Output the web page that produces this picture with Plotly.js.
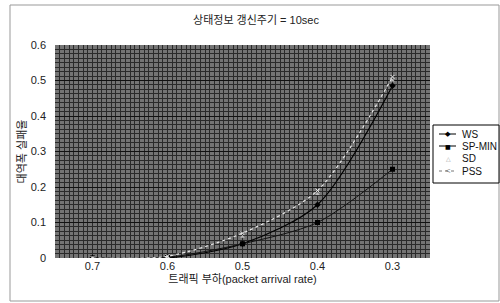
<!DOCTYPE html>
<html>
<head>
<meta charset="utf-8">
<script src="https://cdn.plot.ly/plotly-3.0.1.min.js"></script>
<style>html,body{margin:0;padding:0;background:#fff;}#chart{width:500px;height:303px;}</style>
</head>
<body>
<div id="chart"></div>
<script>
// Data
var loads = [0.7, 0.6, 0.5, 0.4, 0.3];
var tickLabels = ['0.7', '0.6', '0.5', '0.4', '0.3'];
var seriesNames = ['WS', 'SP-MIN', 'SD', 'PSS'];
var ws = [0, 0, 0.04, 0.15, 0.485];
var spmin = [0, 0.002, 0.04, 0.10, 0.25];
var sd = [0, 0.003, 0.06, 0.18, 0.50];
var pss = [0, 0.005, 0.07, 0.19, 0.51];

var FONT = 'Liberation Sans, Arial, Noto Sans CJK KR, sans-serif';

var traces = [
  {x: loads, y: ws, name: seriesNames[0], type: 'scatter', mode: 'lines+markers',
   line: {color: '#000', width: 1.2, shape: 'spline', smoothing: 0.8},
   marker: {symbol: 'diamond', size: 5, color: '#000'}},
  {x: loads, y: spmin, name: seriesNames[1], type: 'scatter', mode: 'lines+markers',
   line: {color: '#111', width: 1, shape: 'spline', smoothing: 0.8},
   marker: {symbol: 'square', size: 5, color: '#000'}},
  {x: loads, y: sd, name: seriesNames[2], type: 'scatter', mode: 'markers',
   marker: {symbol: 'triangle-up', size: 4, color: '#bbb'}},
  {x: loads, y: pss, name: seriesNames[3], type: 'scatter', mode: 'lines+markers',
   line: {color: '#e8e8e8', width: 1.2, dash: 'dot', shape: 'spline', smoothing: 0.8},
   marker: {symbol: 'x-thin-open', size: 4, color: '#e8e8e8', line: {color: '#ddd', width: 1}}}
];

// Manual legend (pixel layout converted to paper coords)
var L = 55, R = 430, T = 45, B = 258;
function px(x) { return (x - L) / (R - L); }
function py(y) { return (B - y) / (B - T); }
var rowY = [134, 146, 158, 171];
var shapes = [
  {type: 'rect', xref: 'paper', yref: 'paper', x0: px(10), x1: px(499), y0: py(301), y1: py(5),
   line: {color: '#999', width: 1}, fillcolor: 'rgba(0,0,0,0)', layer: 'below'},
  {type: 'rect', xref: 'paper', yref: 'paper', x0: px(433), x1: px(499), y0: py(183), y1: py(125),
   line: {color: '#000', width: 1}, fillcolor: '#fff', layer: 'above'}
];
var lineStyles = [
  {color: '#000', width: 1, dash: 'solid'},
  {color: '#000', width: 1, dash: 'solid'},
  null,
  {color: '#777', width: 1, dash: 'dot'}
];
var glyphs = [
  {t: '◆', size: 7, color: '#000'},
  {t: '■', size: 6, color: '#000'},
  {t: '△', size: 6, color: '#999'},
  {t: '<', size: 7, color: '#777'}
];
var annotations = [];
seriesNames.forEach(function (n, i) {
  if (lineStyles[i]) {
    shapes.push({type: 'line', xref: 'paper', yref: 'paper', x0: px(439), x1: px(456),
                 y0: py(rowY[i]), y1: py(rowY[i]), line: lineStyles[i], layer: 'above'});
  }
  annotations.push({xref: 'paper', yref: 'paper', x: px(448), y: py(rowY[i]), text: glyphs[i].t,
    showarrow: false, xanchor: 'center', yanchor: 'middle',
    font: {family: 'DejaVu Sans', size: glyphs[i].size, color: glyphs[i].color}});
  annotations.push({xref: 'paper', yref: 'paper', x: px(460), y: py(rowY[i]), text: n,
    showarrow: false, xanchor: 'left', yanchor: 'middle',
    font: {family: FONT, size: 10, color: '#111'}});
});

var layout = {
  width: 500, height: 303,
  margin: {l: L, r: 500 - R, t: T, b: 303 - B, autoexpand: false},
  paper_bgcolor: '#fff',
  plot_bgcolor: '#747474',
  font: {family: FONT, size: 11, color: '#222'},
  title: {text: '상태정보 갱신주기 = 10sec', x: 0.512, xref: 'container', xanchor: 'center',
          y: 0.932, yref: 'container', yanchor: 'middle',
          font: {family: FONT, size: 11, color: '#222'}},
  xaxis: {
    range: [0.75, 0.25],
    tickmode: 'array', tickvals: loads, ticktext: tickLabels,
    showgrid: false, zeroline: false, showline: false, ticks: '',
    tickfont: {size: 11},
    minor: {dtick: 0.00625, tick0: 0.25, showgrid: true, gridcolor: '#2a2a2a', gridwidth: 1, ticks: ''},
    title: {text: '트래픽 부하(packet arrival rate)', standoff: 4, font: {size: 11}}
  },
  yaxis: {
    range: [0, 0.6], dtick: 0.1,
    showgrid: true, gridcolor: '#111', gridwidth: 1,
    zeroline: false, showline: false, ticks: '',
    ticklabelstandoff: 8,
    tickfont: {size: 11},
    minor: {dtick: 0.0125, showgrid: true, gridcolor: '#2a2a2a', gridwidth: 1, ticks: ''},
    title: {text: '대역폭 실패율', standoff: 1, font: {size: 11}}
  },
  showlegend: false,
  shapes: shapes,
  annotations: annotations
};

Plotly.newPlot('chart', traces, layout, {displayModeBar: false, staticPlot: true});
</script>
</body>
</html>
